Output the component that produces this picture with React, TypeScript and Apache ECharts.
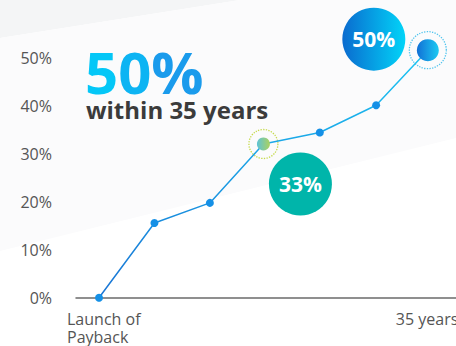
import React, { useEffect, useRef } from "react";
import * as echarts from "echarts";

const yearsX = [0, 5.9, 11.8, 17.5, 23.5, 29.5, 35];
const shareY = [0, 15.6, 19.8, 32.1, 34.5, 40.2, 51.7];
const xTickValues = [0, 35];
const xTickLabels = ["Launch of\nPayback", "35 years"];
const yTicks = [0, 10, 20, 30, 40, 50];
const highlightIdx = [3, 6];
const bubbleTexts = ["33%", "50%"];
const headline = "50%";
const subline = "within 35 years";

const FONT = "'Open Sans', sans-serif";
const headColors = ["#04c7f7", "#0db4f3", "#1a9bec"];

export default function App() {
  const ref = useRef<HTMLDivElement>(null);
  useEffect(() => {
    if (!ref.current) return;
    const chart = echarts.init(ref.current, null, { renderer: "svg" });
    const lg = (a: string, b: string) =>
      new echarts.graphic.LinearGradient(0, 0, 1, 0, [
        { offset: 0, color: a },
        { offset: 1, color: b },
      ]);
    const pts = yearsX.map((x, i) => [x, shareY[i]]);
    const lineData = pts.map((p, i) => {
      if (i === highlightIdx[0])
        return { value: p, symbolSize: 13, itemStyle: { color: lg("#5ec3d6", "#abd15e") } };
      if (i === highlightIdx[1])
        return { value: p, symbolSize: 22, itemStyle: { color: lg("#1270d6", "#1ccaf2") } };
      return { value: p };
    });
    const p1 = pts[highlightIdx[0]];
    const p2 = pts[highlightIdx[1]];
    const headChars = headline.split("");
    const headRich: Record<string, any> = {};
    headChars.forEach((_, i) => {
      headRich["h" + i] = {
        fill: headColors[i % headColors.length],
        fontFamily: FONT,
        fontWeight: "bold",
        fontSize: 58,
        lineHeight: 46,
      };
    });
    const headText = headChars.map((c, i) => `{h${i}|${c}}`).join("");
    chart.setOption({
      animation: false,
      backgroundColor: "#ffffff",
      grid: {
        left: 76,
        right: 0,
        top: 10.4,
        bottom: 48.3,
        containLabel: false,
        outerBoundsMode: "none",
      },
      xAxis: {
        type: "value",
        min: -2.45,
        max: 38,
        splitLine: { show: false },
        axisTick: { show: false },
        axisLine: { show: true, lineStyle: { color: "#6b6b6b", width: 1.5 } },
        axisLabel: {
          customValues: xTickValues,
          margin: 12,
          color: "#555555",
          fontFamily: FONT,
          fontSize: 16,
          lineHeight: 18,
          formatter: (v: number) => {
            const i = xTickValues.indexOf(v);
            if (i < 0) return "";
            const lines = xTickLabels[i].split("\n");
            return lines.map((l) => `{a|${l}}`).join("\n");
          },
          rich: {
            a: { fontFamily: FONT, fontSize: 16, lineHeight: 18, color: "#555555", width: 64, align: "left" },
          },
        },
      },
      yAxis: {
        type: "value",
        min: 0,
        max: 60,
        interval: 10,
        splitLine: { show: false },
        axisTick: { show: false },
        axisLine: { show: false },
        axisLabel: {
          margin: 24,
          color: "#555555",
          fontFamily: FONT,
          fontSize: 16,
          formatter: (v: number) => (yTicks.indexOf(v) >= 0 ? v + "%" : ""),
        },
      },
      graphic: [
        {
          type: "polygon",
          z: -10,
          silent: true,
          shape: { points: [[0, 0], [240, 0], [0, 38]] },
          style: { fill: "#f4f5f6" },
        },
        {
          type: "polygon",
          z: -10,
          silent: true,
          shape: { points: [[0, 38], [240, 0], [456, 0], [456, 138], [0, 251]] },
          style: { fill: "#fbfbfc" },
        },
        {
          type: "text",
          x: 85,
          y: 71,
          z: 10,
          style: {
            text: headText,
            rich: headRich,
            font: `bold 58px ${FONT}`,
            align: "left",
            verticalAlign: "middle",
          },
        },
        {
          type: "text",
          x: 86,
          y: 109,
          z: 10,
          style: {
            text: subline,
            font: `bold 24px ${FONT}`,
            fill: "#3b3b3b",
            lineHeight: 24,
            align: "left",
            verticalAlign: "middle",
          },
        },
      ],
      series: [
        {
          type: "line",
          data: lineData,
          symbol: "circle",
          symbolSize: 8,
          showSymbol: true,
          z: 3,
          itemStyle: { color: "#1590e6" },
          lineStyle: {
            width: 1.5,
            color: new echarts.graphic.LinearGradient(0, 1, 0, 0, [
              { offset: 0, color: "#1a74d4" },
              { offset: 1, color: "#1cc6f3" },
            ]),
          },
        },
        {
          type: "scatter",
          z: 2,
          silent: true,
          data: [
            { value: p1, symbolSize: 29, itemStyle: { borderColor: "#c6da4c" } },
            { value: p2, symbolSize: 37, itemStyle: { borderColor: "#4fc4ee" } },
          ],
          itemStyle: { color: "rgba(0,0,0,0)", opacity: 1, borderWidth: 1.3, borderType: "dotted" },
        },
        {
          type: "scatter",
          z: 4,
          silent: true,
          data: [
            {
              value: p1,
              symbolSize: 63,
              symbolOffset: [37, 40],
              itemStyle: { color: "#00b5aa" },
              label: { formatter: bubbleTexts[0] },
            },
            {
              value: p2,
              symbolSize: 63,
              symbolOffset: [-54, -11],
              itemStyle: { color: lg("#0a6bcf", "#02d4f8") },
              label: { formatter: bubbleTexts[1] },
            },
          ],
          itemStyle: { opacity: 1 },
          label: {
            show: true,
            position: "inside",
            color: "#ffffff",
            fontFamily: FONT,
            fontWeight: "bold",
            fontSize: 21,
          },
        },
      ],
    });
    return () => chart.dispose();
  }, []);
  return (
    <div
      ref={ref}
      style={{ position: "fixed", left: 0, top: 0, width: 456, height: 346 }}
    />
  );
}
